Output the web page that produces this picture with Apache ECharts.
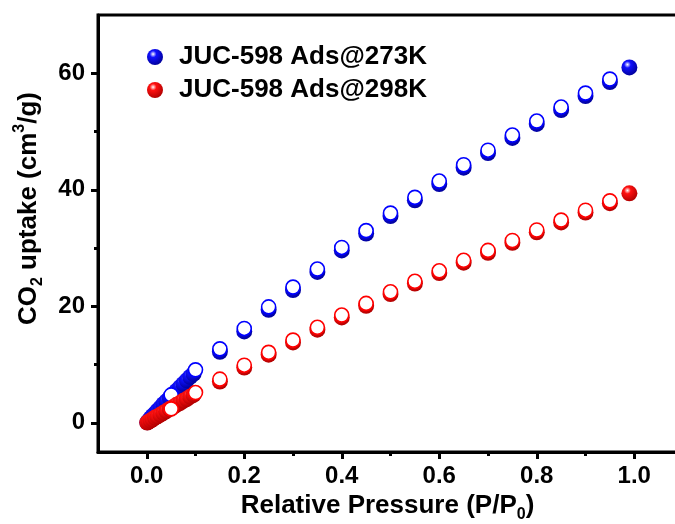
<!DOCTYPE html>
<html>
<head>
<meta charset="utf-8">
<script src="https://cdn.jsdelivr.net/npm/echarts@6/dist/echarts.min.js"></script>
<style>
html,body{margin:0;padding:0;background:#fff;}
#chart{width:675px;height:524px;}
</style>
</head>
<body>
<div id="chart"></div>
<script>
// ---- data ----
var xMajorTicks = [0, 0.2, 0.4, 0.6, 0.8, 1.0];
var xMinorTicks = [0.1, 0.3, 0.5, 0.7, 0.9];
var yMajorTicks = [0, 20, 40, 60];
var yMinorTicks = [10, 30, 50];

// 273 K adsorption (filled spheres)
var p273Ads = [0.001,0.004,0.008,0.012,0.017,0.022,0.028,0.034,0.040,0.047,0.054,0.061,0.068,0.075,0.082,0.089,0.096,
               0.15,0.20,0.25,0.30,0.35,0.40,0.45,0.50,0.55,0.60,0.65,0.70,0.75,0.80,0.85,0.90,0.95,0.99];
var v273Ads = [0.1,0.4,0.8,1.2,1.6,2.1,2.6,3.2,3.7,4.3,4.9,5.5,6.1,6.7,7.3,7.9,8.4,
               12.2,15.7,19.4,22.8,25.9,29.6,32.5,35.5,38.2,41.0,43.8,46.3,48.9,51.3,53.7,56.1,58.5,61.0];
// 273 K hollow circles
var p273Open = [0.05,0.10,0.15,0.20,0.25,0.30,0.35,0.40,0.45,0.50,0.55,0.60,0.65,0.70,0.75,0.80,0.85,0.90,0.95];
var v273Open = [4.8,9.1,12.7,16.2,19.9,23.3,26.4,30.1,33.0,36.0,38.7,41.5,44.3,46.8,49.4,51.8,54.2,56.6,59.0];

// 298 K adsorption (filled spheres)
var p298Ads = [0.001,0.004,0.008,0.012,0.017,0.022,0.028,0.034,0.040,0.047,0.054,0.061,0.068,0.075,0.082,0.089,0.096,
               0.15,0.20,0.25,0.30,0.35,0.40,0.45,0.50,0.55,0.60,0.65,0.70,0.75,0.80,0.85,0.90,0.95,0.99];
var v298Ads = [0.05,0.2,0.4,0.6,0.9,1.1,1.4,1.7,2.0,2.4,2.7,3.1,3.4,3.8,4.1,4.5,4.8,
               7.1,9.5,11.7,13.8,16.0,18.1,20.1,22.1,23.9,25.7,27.5,29.2,30.9,32.7,34.4,36.1,37.7,39.4];
// 298 K hollow circles
var p298Open = [0.05,0.10,0.15,0.20,0.25,0.30,0.35,0.40,0.45,0.50,0.55,0.60,0.65,0.70,0.75,0.80,0.85,0.90,0.95];
var v298Open = [2.4,5.2,7.5,9.9,12.1,14.2,16.4,18.5,20.5,22.5,24.3,26.1,27.9,29.6,31.3,33.1,34.8,36.5,38.1];

var name273 = 'JUC-598 Ads@273K';
var name298 = 'JUC-598 Ads@298K';

function pairs(xs, ys){ return xs.map(function(x,i){ return [x, ys[i]]; }); }
function sphere(c, dark){
  return new echarts.graphic.RadialGradient(0.38, 0.32, 0.7, [
    {offset:0, color:'#ffffff'},
    {offset:0.3, color:c},
    {offset:1, color:dark}
  ]);
}

var FONT = '"Liberation Sans", Arial, sans-serif';
var chart = echarts.init(document.getElementById('chart'), null, {renderer:'canvas'});

var option = {
  animation:false,
  backgroundColor:'#ffffff',
  grid:{left:98, right:-8, top:15, bottom:72, outerBoundsMode:'none', containLabel:false,
        show:true, borderColor:'#000', borderWidth:3, backgroundColor:'transparent'},
  legend:{
    orient:'vertical', left:142, top:37, itemWidth:16, itemHeight:16, itemGap:3,
    data:[name273, name298],
    textStyle:{fontFamily:FONT, fontWeight:'bold', fontSize:26, color:'#000', lineHeight:30, padding:[0,0,0,11]}
  },
  xAxis:[{
    type:'value', min:-0.1, max:1.1, position:'bottom',
    axisLine:{show:true, onZero:false, lineStyle:{color:'#000', width:3}},
    axisTick:{show:true, inside:false, length:7, lineStyle:{color:'#000', width:3}, customValues:xMajorTicks},
    axisLabel:{show:true, margin:12, fontFamily:FONT, fontWeight:'bold', fontSize:24, color:'#000',
      customValues:xMajorTicks, formatter:function(v){ return v.toFixed(1); }},
    splitLine:{show:false},
    name:'{m|Relative Pressure (P/P}{s|0}{m|)}', nameLocation:'middle', nameGap:34,
    nameTextStyle:{padding:[0,6,0,0], rich:{
      m:{fontFamily:FONT, fontWeight:'bold', fontSize:26, color:'#000', lineHeight:34},
      s:{fontFamily:FONT, fontWeight:'bold', fontSize:16, color:'#000', lineHeight:16, verticalAlign:'bottom'}
    }}
  },{
    type:'value', min:-0.1, max:1.1, position:'bottom',
    axisLine:{show:false, onZero:false},
    axisTick:{show:true, inside:false, length:4, lineStyle:{color:'#000', width:3}, customValues:xMinorTicks},
    axisLabel:{show:false}, splitLine:{show:false}
  }],
  yAxis:[{
    type:'value', min:-5, max:70, position:'left',
    axisLine:{show:true, onZero:false, lineStyle:{color:'#000', width:3}},
    axisTick:{show:true, inside:false, length:7, lineStyle:{color:'#000', width:3}, customValues:yMajorTicks},
    axisLabel:{show:true, margin:13, fontFamily:FONT, fontWeight:'bold', fontSize:24, color:'#000', customValues:yMajorTicks},
    splitLine:{show:false},
    name:'{m|CO}{s|2}{m| uptake (cm}{p|3}{m|/g)}', nameLocation:'middle', nameRotate:90, nameGap:52,
    nameTextStyle:{padding:[0,0,0,50], rich:{
      m:{fontFamily:FONT, fontWeight:'bold', fontSize:26, color:'#000', lineHeight:34},
      s:{fontFamily:FONT, fontWeight:'bold', fontSize:16, color:'#000', lineHeight:16, verticalAlign:'bottom'},
      p:{fontFamily:FONT, fontWeight:'bold', fontSize:16, color:'#000', lineHeight:16, verticalAlign:'top'}
    }}
  },{
    type:'value', min:-5, max:70, position:'left',
    axisLine:{show:false, onZero:false},
    axisTick:{show:true, inside:false, length:4, lineStyle:{color:'#000', width:3}, customValues:yMinorTicks},
    axisLabel:{show:false}, splitLine:{show:false}
  }],
  series:[
    {name:name273, type:'scatter', symbol:'circle', symbolSize:16, data:pairs(p273Ads, v273Ads),
     itemStyle:{color:sphere('#1010ff','#00009a'), opacity:1}},
    {name:'273 open', type:'scatter', symbol:'circle', symbolSize:14, data:pairs(p273Open, v273Open),
     itemStyle:{color:'#ffffff', borderColor:'#0000ff', borderWidth:1.6, opacity:1}},
    {name:name298, type:'scatter', symbol:'circle', symbolSize:16, data:pairs(p298Ads, v298Ads),
     itemStyle:{color:sphere('#ff1010','#b00000'), opacity:1}},
    {name:'298 open', type:'scatter', symbol:'circle', symbolSize:14, data:pairs(p298Open, v298Open),
     itemStyle:{color:'#ffffff', borderColor:'#ff0000', borderWidth:1.6, opacity:1}}
  ]
};
chart.setOption(option);
</script>
</body>
</html>
